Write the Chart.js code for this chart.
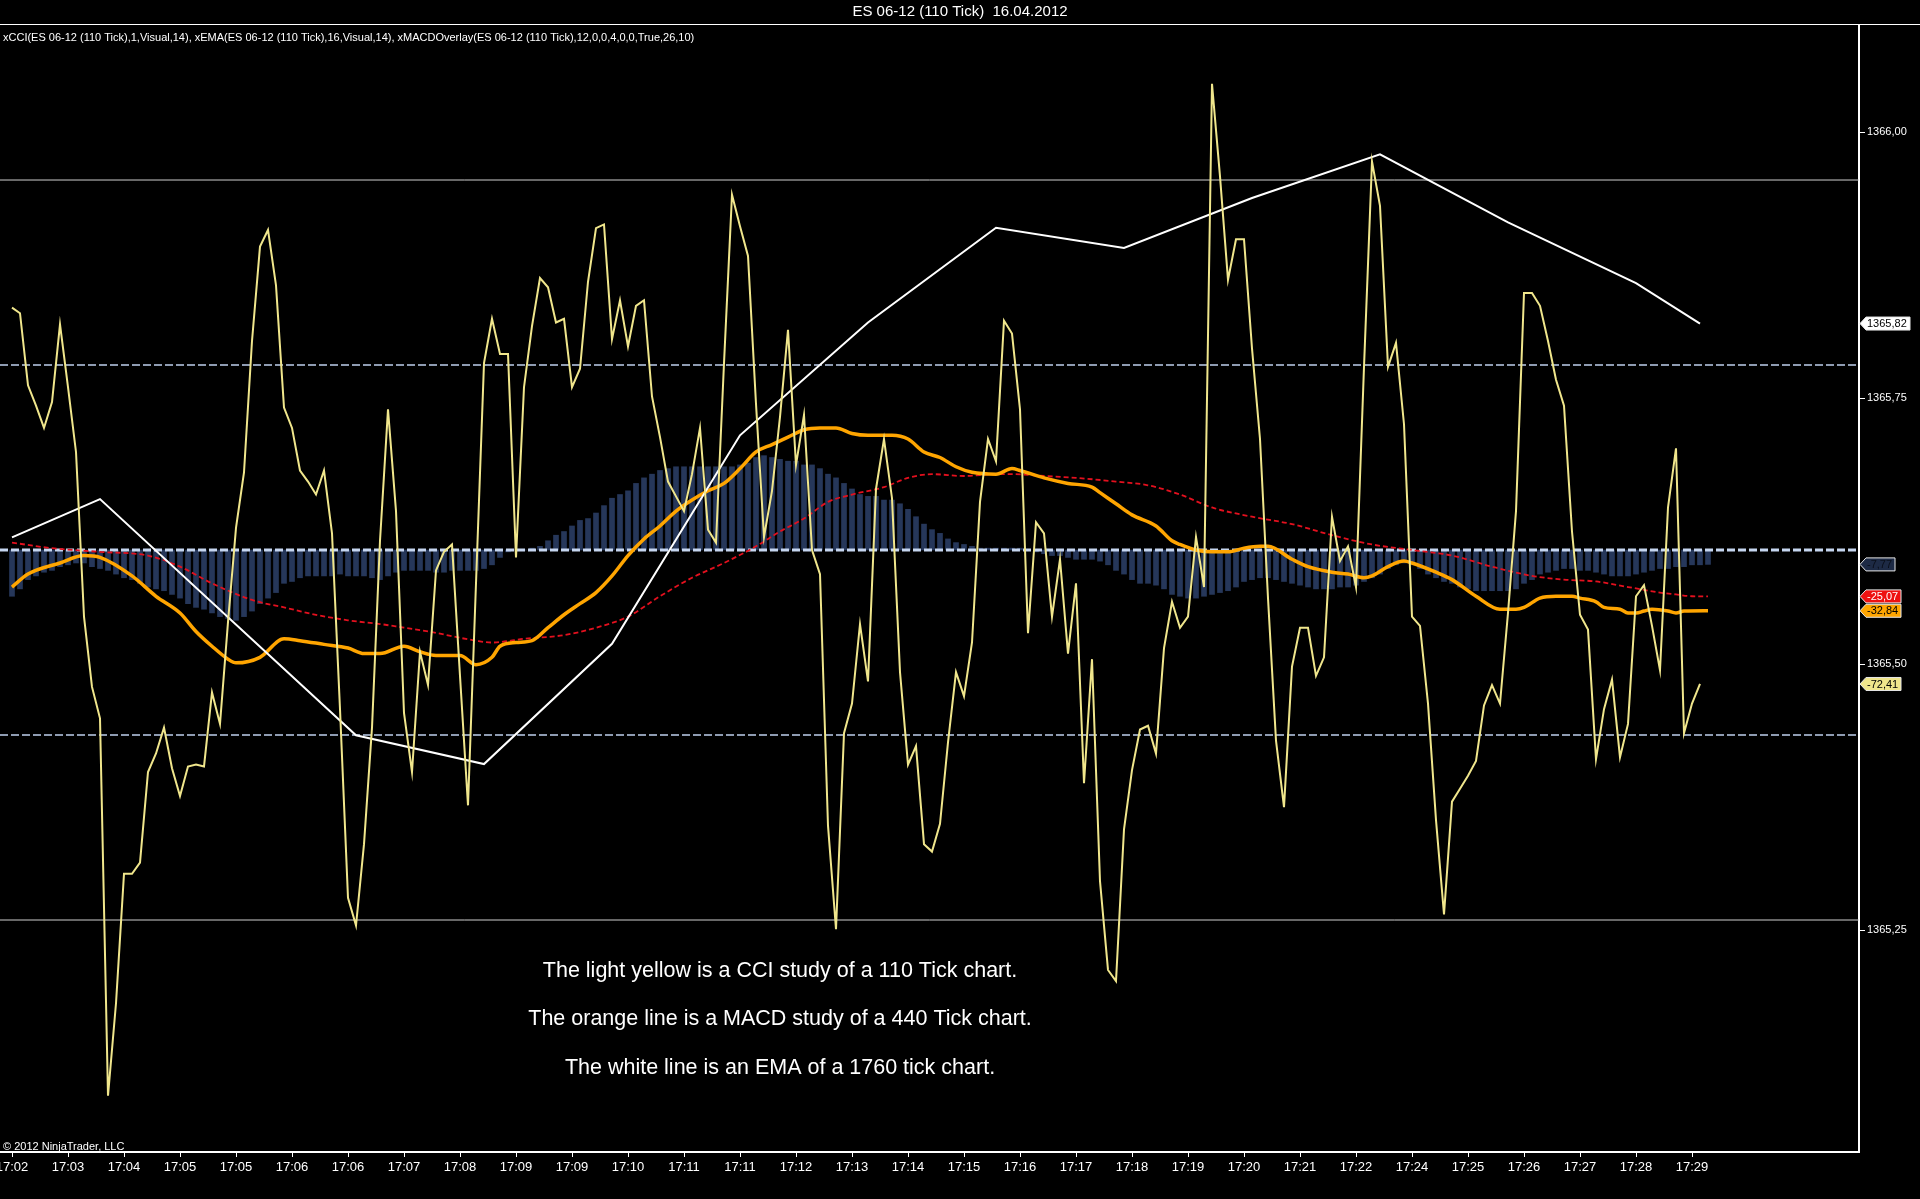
<!DOCTYPE html>
<html>
<head>
<meta charset="utf-8">
<script src="https://cdn.jsdelivr.net/npm/chart.js@4.4.1/dist/chart.umd.min.js"></script>
<style>
    html, body { margin: 0; padding: 0; background: #000; overflow: hidden; }
    canvas { display: block; background: #000; }
</style>
</head>
<body>
<canvas id="grafico" width="1920" height="1199"></canvas>
<script>
// rótulos do eixo de tempo (um a cada 7 barras)
const rotulosTempo = [
    '17:02', '17:03', '17:04', '17:05', '17:05', '17:06', '17:06', '17:07', '17:08', '17:09',
    '17:09', '17:10', '17:11', '17:11', '17:12', '17:13', '17:14', '17:15', '17:16', '17:17',
    '17:18', '17:19', '17:20', '17:21', '17:22', '17:24', '17:25', '17:26', '17:27', '17:28', '17:29'
];

const precoTicks = [1365.25, 1365.50, 1365.75, 1366.00];
const niveisCCI = [200, 100, 0, -100, -200];

// CCI (110 tick), uma leitura por barra
const valoresCCI = [
    131, 128, 89, 78, 66, 80, 122, 88, 53, -36,
    -74, -91, -295, -245, -175, -175, -169, -120, -110, -96,
    -118, -133, -117, -116, -117, -77, -94, -39, 12, 42,
    113, 164, 173, 143, 77, 66, 43, 37, 30, 43,
    9, -86, -188, -203, -159, -96, 5, 76, 21, -88,
    -120, -55, -73, -11, -1, 3, -68, -138, -18, 101,
    125, 106, 106, -4, 88, 121, 147, 142, 123, 125,
    88, 98, 145, 174, 176, 114, 135, 110, 132, 135,
    83, 61, 37, 29, 21, 41, 66, 11, 4, 101,
    192, 175, 159, 79, 7, 32, 72, 119, 46, 73,
    0, -13, -149, -205, -99, -83, -40, -71, 33, 60,
    28, -66, -116, -106, -159, -163, -148, -104, -66, -79,
    -50, 26, 60, 48, 124, 117, 76, -45, 15, 9,
    -36, -5, -56, -18, -126, -59, -179, -227, -233, -151,
    -119, -97, -95, -110, -53, -28, -42, -36, 7, -20,
    252, 202, 146, 168, 168, 109, 60, -26, -103, -139,
    -63, -42, -42, -68, -58, 18, -6, 2, -20, 99,
    210, 186, 99, 112, 68, -36, -41, -83, -146, -197,
    -136, -129, -122, -114, -84, -73, -83, -34, 21, 139,
    139, 132, 113, 92, 78, 10, -35, -43, -113, -86,
    -70, -112, -94, -25, -19, -41, -65, 23, 55, -99,
    -83, -72.41
];

// histograma do MACD (440 tick)
const histMACD = [
    -25, -21, -16, -14, -12, -11, -9, -8, -7, -7,
    -9, -10, -11, -13, -15, -16, -18, -20, -21, -22,
    -24, -26, -29, -31, -32, -34, -36, -37, -38, -36,
    -33, -29, -26, -23, -18, -17, -15, -14, -14, -14,
    -14, -13, -14, -14, -14, -15, -16, -14, -12, -11,
    -11, -11, -11, -12, -12, -11, -11, -11, -11, -10,
    -8, -4, -1, 0, 0, 1, 2, 5, 8, 10,
    13, 16, 17, 20, 24, 28, 30, 32, 36, 39,
    41, 43, 44, 45, 45, 45, 45, 45, 45, 45,
    45, 46, 47, 50, 51, 50, 49, 48, 48, 46,
    46, 44, 41, 39, 36, 33, 30, 29, 29, 27,
    27, 25, 22, 18, 14, 11, 9, 6, 4, 3,
    2, 1, 1, 1, 1, 1, 1, 0, -1, -2,
    -3, -3, -4, -5, -5, -5, -6, -8, -11, -13,
    -16, -18, -18, -19, -21, -24, -25, -26, -26, -25,
    -24, -23, -22, -20, -17, -16, -15, -15, -16, -17,
    -18, -19, -20, -21, -21, -21, -20, -20, -19, -17,
    -15, -13, -10, -8, -7, -8, -10, -13, -15, -17,
    -18, -20, -21, -22, -22, -22, -22, -22, -21, -18,
    -16, -13, -12, -11, -10, -10, -11, -11, -12, -13,
    -14, -14, -14, -13, -12, -11, -10, -10, -9, -9,
    -8, -8, -7.77
];

// linha MACD (laranja)
const macdIdx = [
    0, 2, 6, 9, 11, 15, 18, 21, 23, 25, 27, 28, 31, 34, 36, 39, 42, 44, 46, 49,
    51, 53, 56, 58, 60, 61, 63, 65, 67, 69, 71, 73, 75, 77, 79, 81, 83, 85, 87, 89,
    91, 93, 95, 97, 99, 101, 103, 105, 107, 110, 112, 114, 116, 118, 120, 123, 125, 126, 129, 132,
    135, 136, 138, 140, 143, 145, 146, 148, 150, 152, 154, 156, 157, 160, 162, 165, 167, 169, 170, 172,
    174, 175, 178, 180, 183, 186, 188, 189, 191, 193, 195, 196, 198, 199, 201, 202, 203, 204, 205, 207,
    208, 209, 212
];
const macdVal = [
    -20, -13, -7, -3, -4, -14, -25, -34, -44, -52, -59, -61, -58, -48, -49, -51, -53, -56, -56, -52,
    -55, -57, -57, -62, -58, -52, -50, -49, -42, -35, -29, -23, -14, -3, 6, 13, 21, 27, 32, 36,
    44, 53, 57, 61, 65, 66, 66, 63, 62, 62, 60, 53, 50, 45, 42, 41, 44, 43, 39, 36,
    34, 31, 25, 19, 13, 5, 3, 0, -1, -1, 1, 2, 2, -5, -9, -12, -13, -15, -14, -9,
    -6, -7, -12, -16, -25, -32, -32, -31, -26, -25, -25, -26, -28, -31, -32, -34, -34, -33, -32, -33,
    -34, -33, -32.84
];

// linha de sinal (vermelha tracejada)
const sinalIdx = [
    0, 5, 11, 17, 21, 25, 30, 34, 38, 42, 46, 49, 52, 58, 60, 64, 69, 73, 77, 81,
    85, 89, 93, 96, 99, 102, 105, 109, 112, 115, 119, 123, 125, 129, 133, 138, 142, 146, 150, 155,
    160, 165, 170, 175, 180, 185, 190, 194, 198, 202, 206, 208, 210, 212
];
const sinalVal = [
    4, 1, -1, -3, -9, -18, -27, -31, -35, -38, -40, -42, -44, -49, -50, -48, -46, -42, -36, -25,
    -15, -7, 2, 10, 17, 26, 30, 34, 39, 41, 40, 41, 41, 40, 39, 37, 35, 30, 23, 18,
    14, 8, 3, 0, -3, -9, -14, -16, -17, -20, -23, -24, -25, -25.07
];

// EMA do 1760 tick (branca), em preço
const emaIdx = [0, 11, 43, 59, 75, 91, 107, 123, 139, 155, 171, 187, 203, 211];
const emaVal = [1365.619, 1365.655, 1365.433, 1365.406, 1365.519, 1365.715, 1365.821,
    1365.910, 1365.891, 1365.938, 1365.979, 1365.915, 1365.858, 1365.82];

const textosNota = [
    'The light yellow is a CCI study of a 110 Tick chart.',
    'The orange line is a MACD study of a 440 Tick chart.',
    'The white line is an EMA of a 1760 tick chart.'
];

const fonteEstreita = "'Liberation Sans Narrow', 'Arial Narrow', 'Liberation Sans', Arial, sans-serif";
const fonte = "'Liberation Sans', Arial, sans-serif";

const X_MIN = -1.5;
const X_MAX = 230.875;

function virgula(v) {
    return v.toFixed(2).replace('.', ',');
}

function estiloNivel(nivel) {
    if (nivel === 0) return { cor: '#c6d6f0', largura: 3, traco: [8, 3] };
    if (Math.abs(nivel) === 100) return { cor: '#8f9cb2', largura: 2, traco: [8, 3] };
    return { cor: '#cfcfcf', largura: 1, traco: [] };
}

function desenharEtiqueta(ctx, y, texto, fundo, corTexto) {
    const x0 = 1860;
    ctx.font = `11px ${fonte}`;
    const direita = Math.round(1867 + ctx.measureText(texto).width + 3);
    ctx.beginPath();
    ctx.moveTo(x0, y);
    ctx.lineTo(x0 + 6, y - 6.5);
    ctx.lineTo(direita, y - 6.5);
    ctx.lineTo(direita, y + 6.5);
    ctx.lineTo(x0 + 6, y + 6.5);
    ctx.closePath();
    ctx.fillStyle = fundo;
    ctx.fill();
    ctx.strokeStyle = '#e8e8e8';
    ctx.lineWidth = 1;
    ctx.stroke();
    ctx.fillStyle = corTexto;
    ctx.textAlign = 'left';
    ctx.textBaseline = 'middle';
    ctx.fillText(texto, 1867, y + 0.5);
}

const moldura = {
    id: 'moldura',
    afterDraw(chart) {
        const ctx = chart.ctx;
        const cci = chart.scales.cci;
        const preco = chart.scales.preco;

        ctx.save();
        ctx.strokeStyle = '#ffffff';
        ctx.lineWidth = 1;
        ctx.beginPath();
        ctx.moveTo(0, 24.5);
        ctx.lineTo(1920, 24.5);
        ctx.stroke();

        ctx.fillStyle = '#ffffff';
        ctx.textBaseline = 'middle';
        ctx.textAlign = 'left';
        ctx.font = `11px ${fonteEstreita}`;
        ctx.fillText('xCCI(ES 06-12 (110 Tick),1,Visual,14), xEMA(ES 06-12 (110 Tick),16,Visual,14), xMACDOverlay(ES 06-12 (110 Tick),12,0,0,4,0,0,True,26,10)', 3, 38);
        ctx.fillText('\u00a9 2012 NinjaTrader, LLC', 3, 1147);

        ctx.textAlign = 'center';
        ctx.font = `21.5px ${fonte}`;
        const linhasY = [971, 1019, 1068];
        textosNota.forEach((t, k) => ctx.fillText(t, 780, linhasY[k]));

        const ult = a => a[a.length - 1];
        desenharEtiqueta(ctx, preco.getPixelForValue(ult(emaVal)), virgula(ult(emaVal)), '#ffffff', '#000000');
        desenharEtiqueta(ctx, cci.getPixelForValue(ult(histMACD)), virgula(ult(histMACD)), '#1d2a45', '#0a0f1a');
        desenharEtiqueta(ctx, cci.getPixelForValue(ult(sinalVal)), virgula(ult(sinalVal)), '#ee1111', '#ffffff');
        desenharEtiqueta(ctx, cci.getPixelForValue(ult(macdVal)), virgula(ult(macdVal)), '#ffa500', '#000000');
        desenharEtiqueta(ctx, cci.getPixelForValue(ult(valoresCCI)), virgula(ult(valoresCCI)), '#f0e68c', '#000000');
        ctx.restore();
    }
};

const datasetsNiveis = niveisCCI.map(nivel => {
    const { cor, largura, traco } = estiloNivel(nivel);
    return {
        type: 'line',
        data: [{ x: X_MIN, y: nivel }, { x: X_MAX, y: nivel }],
        yAxisID: 'cci',
        borderColor: cor,
        borderWidth: largura,
        borderDash: traco,
        pointRadius: 0,
        order: 20
    };
});

new Chart(document.getElementById('grafico').getContext('2d'), {
    data: {
        datasets: [
            {
                type: 'bar',
                data: histMACD.map((v, i) => ({ x: i, y: v })),
                yAxisID: 'cci',
                backgroundColor: '#26375a',
                barThickness: 5,
                order: 30
            },
            ...datasetsNiveis,
            {
                type: 'line',
                data: sinalIdx.map((x, k) => ({ x, y: sinalVal[k] })),
                yAxisID: 'cci',
                borderColor: '#e3101e',
                borderWidth: 1.8,
                borderDash: [5, 3],
                cubicInterpolationMode: 'monotone',
                pointRadius: 0,
                order: 5
            },
            {
                type: 'line',
                data: macdIdx.map((x, k) => ({ x, y: macdVal[k] })),
                yAxisID: 'cci',
                borderColor: '#ffa500',
                borderWidth: 3.5,
                cubicInterpolationMode: 'monotone',
                pointRadius: 0,
                order: 4
            },
            {
                type: 'line',
                data: emaIdx.map((x, k) => ({ x, y: emaVal[k] })),
                yAxisID: 'preco',
                borderColor: '#ffffff',
                borderWidth: 2,
                pointRadius: 0,
                order: 3
            },
            {
                type: 'line',
                data: valoresCCI.map((v, i) => ({ x: i, y: v })),
                yAxisID: 'cci',
                borderColor: '#f0e68c',
                borderWidth: 2,
                pointRadius: 0,
                order: 1
            }
        ]
    },
    options: {
        responsive: false,
        devicePixelRatio: 1,
        animation: false,
        events: [],
        layout: { padding: 0, autoPadding: false },
        plugins: {
            legend: { display: false },
            tooltip: { enabled: false },
            title: {
                display: true,
                text: 'ES 06-12 (110 Tick)  16.04.2012',
                color: '#ffffff',
                font: { family: fonteEstreita, size: 15, weight: 'normal' },
                padding: { top: 3, bottom: 4 }
            }
        },
        scales: {
            x: {
                type: 'linear',
                position: 'bottom',
                offset: false,
                min: X_MIN,
                max: X_MAX,
                afterBuildTicks(eixo) {
                    eixo.ticks = rotulosTempo.map((_, k) => ({ value: k * 7 }));
                },
                afterFit(eixo) {
                    eixo.height = 47;
                    eixo.paddingLeft = 0;
                    eixo.paddingRight = 0;
                },
                ticks: {
                    color: '#ffffff',
                    autoSkip: false,
                    maxRotation: 0,
                    padding: 3,
                    font: { family: fonteEstreita, size: 13 },
                    callback: (valor, k) => rotulosTempo[k]
                },
                grid: { drawOnChartArea: false, offset: false, color: '#ffffff', tickLength: 5 },
                border: { color: '#ffffff', width: 2 }
            },
            cci: {
                type: 'linear',
                display: false,
                min: -325.4,
                max: 283.8
            },
            preco: {
                type: 'linear',
                position: 'right',
                min: 1365.0414,
                max: 1366.1006,
                afterBuildTicks(eixo) {
                    eixo.ticks = precoTicks.map(v => ({ value: v }));
                },
                afterFit(eixo) {
                    eixo.width = 61;
                    eixo.paddingTop = 0;
                    eixo.paddingBottom = 0;
                },
                ticks: {
                    color: '#ffffff',
                    padding: 2,
                    font: { family: fonte, size: 11 },
                    callback: v => virgula(v)
                },
                grid: { drawOnChartArea: false, color: '#ffffff', tickLength: 6 },
                border: { color: '#ffffff', width: 2 }
            }
        }
    },
    plugins: [moldura]
});
</script>
</body>
</html>
